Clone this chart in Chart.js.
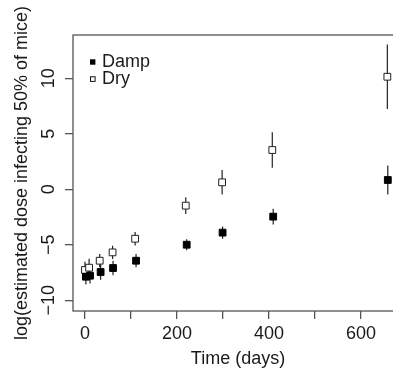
<!DOCTYPE html>
<html>
<head>
<meta charset="utf-8">
<script src="https://cdn.jsdelivr.net/npm/chart.js@4.4.1/dist/chart.umd.min.js"></script>
<style>
html,body{margin:0;padding:0;background:#fff;overflow:hidden;}
#wrap{width:393px;height:374px;position:relative;overflow:hidden;}
</style>
</head>
<body>
<div id="wrap"><canvas id="c" width="410" height="374"></canvas></div>
<script>
// ---- data ----
const dampTimes = [2, 11, 34, 61, 111, 221, 299, 409, 658];
const dampValues = [-7.87, -7.78, -7.45, -7.09, -6.43, -4.99, -3.9, -2.46, 0.84];
const dampErrors = [0.7, 0.7, 0.7, 0.65, 0.6, 0.5, 0.55, 0.7, 1.3];
const dryTimes = [0, 9, 32, 60, 109, 219, 298, 407, 657];
const dryValues = [-7.27, -7.06, -6.43, -5.68, -4.45, -1.47, 0.63, 3.54, 10.14];
const dryErrors = [0.75, 0.8, 0.6, 0.6, 0.6, 0.75, 1.1, 1.6, 2.9];
const xTicks = [0, 100, 200, 300, 400, 500, 600];
const xTickLabels = ['0', '', '200', '', '400', '', '600'];
const yTicks = [-10, -5, 0, 5, 10];
const yTickLabels = ['\u221210', '\u22125', '0', '5', '10'];
const seriesNames = ['Damp', 'Dry'];

const FONT = 'Liberation Sans, Arial, Helvetica, sans-serif';
const TXT = '#1a1a1a';
const BOX = '#555';

const errorBars = {
  id: 'errorBars',
  beforeDatasetsDraw(chart) {
    const ctx = chart.ctx;
    const xs = chart.scales.x, ys = chart.scales.y;
    const sets = [[dampTimes, dampValues, dampErrors], [dryTimes, dryValues, dryErrors]];
    ctx.save();
    ctx.strokeStyle = '#222';
    ctx.lineWidth = 1.2;
    sets.forEach(([t, v, e]) => {
      t.forEach((ti, i) => {
        const px = xs.getPixelForValue(ti);
        ctx.beginPath();
        ctx.moveTo(px, ys.getPixelForValue(v[i] - e[i]));
        ctx.lineTo(px, ys.getPixelForValue(v[i] + e[i]));
        ctx.stroke();
      });
    });
    ctx.restore();
  }
};

const boxPlugin = {
  id: 'box',
  afterDraw(chart) {
    const a = chart.chartArea, ctx = chart.ctx;
    ctx.save();
    ctx.strokeStyle = BOX;
    ctx.lineWidth = 1.3;
    ctx.strokeRect(a.left, a.top, a.right - a.left, a.bottom - a.top);
    // legend
    const items = [{fill: '#000'}, {fill: '#fff'}];
    ctx.font = '18px ' + FONT;
    ctx.textBaseline = 'middle';
    items.forEach((it, i) => {
      const cy = 62 + i * 17;
      ctx.fillStyle = it.fill;
      ctx.fillRect(90, cy - 2.7, 5.4, 5.4);
      if (i === 1) {
        ctx.strokeStyle = '#111';
        ctx.lineWidth = 1;
        ctx.strokeRect(90.5, cy - 2.2, 4.6, 4.6);
      }
      ctx.fillStyle = TXT;
      ctx.fillText(seriesNames[i], 102, cy + 0.5);
    });
    ctx.restore();
  }
};

new Chart(document.getElementById('c'), {
  type: 'scatter',
  data: {
    datasets: [
      {
        label: seriesNames[0],
        data: dampTimes.map((t, i) => ({x: t, y: dampValues[i]})),
        pointStyle: 'rect',
        pointRadius: 4.8,
        backgroundColor: '#000',
        borderColor: '#000',
        borderWidth: 1
      },
      {
        label: seriesNames[1],
        data: dryTimes.map((t, i) => ({x: t, y: dryValues[i]})),
        pointStyle: 'rect',
        pointRadius: 4.8,
        backgroundColor: '#fff',
        borderColor: '#222',
        borderWidth: 1
      }
    ]
  },
  options: {
    responsive: false,
    animation: false,
    devicePixelRatio: 1,
    layout: {padding: {top: 35, left: 0, right: 7, bottom: 0}},
    plugins: {legend: {display: false}, tooltip: {enabled: false}},
    scales: {
      x: {
        type: 'linear',
        min: -26,
        max: 691,
        afterBuildTicks: s => { s.ticks = xTicks.map(v => ({value: v})); },
        afterFit: s => { s.height = 63; },
        border: {display: false},
        grid: {drawOnChartArea: false, drawTicks: true, tickLength: 8, color: BOX, lineWidth: 1.3},
        ticks: {
          autoSkip: false, maxRotation: 0, minRotation: 0,
          color: TXT, font: {size: 18, family: FONT}, padding: 4,
          callback: (v, i) => xTickLabels[xTicks.indexOf(v)]
        },
        title: {display: true, text: 'Time (days)', color: TXT, font: {size: 18, family: FONT}, padding: {top: 0, bottom: 4}}
      },
      y: {
        type: 'linear',
        min: -10.96,
        max: 13.9,
        afterBuildTicks: s => { s.ticks = yTicks.map(v => ({value: v})); },
        afterFit: s => { s.width = 73; },
        border: {display: false},
        grid: {drawOnChartArea: false, drawTicks: true, tickLength: 8, color: BOX, lineWidth: 1.3},
        ticks: {
          autoSkip: false, minRotation: 90, maxRotation: 90, crossAlign: 'center',
          color: TXT, font: {size: 18, family: FONT}, padding: 1,
          callback: (v) => yTickLabels[yTicks.indexOf(v)]
        },
        title: {display: true, text: 'log(estimated dose infecting 50% of mice)', color: TXT, font: {size: 18, family: FONT}, padding: {top: 11, bottom: 0}}
      }
    }
  },
  plugins: [errorBars, boxPlugin]
});
</script>
</body>
</html>
